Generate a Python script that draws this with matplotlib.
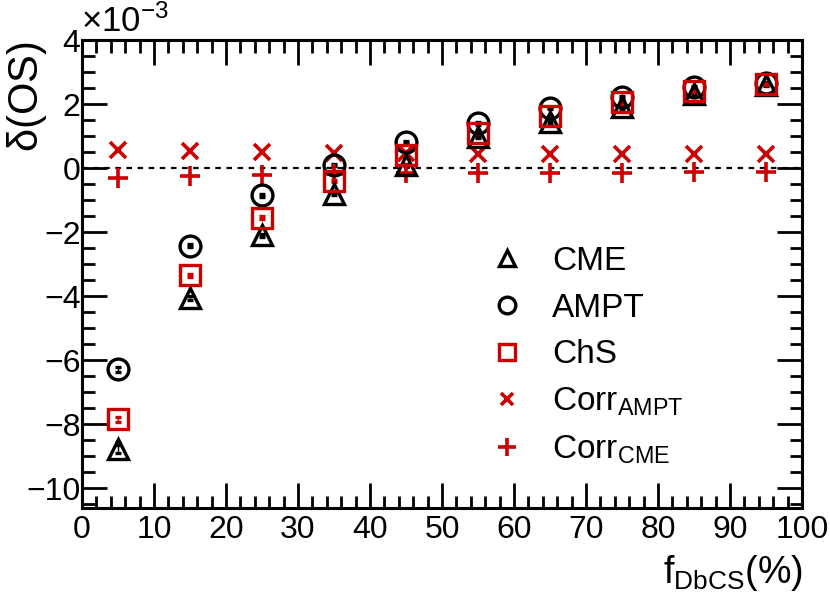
import numpy as np
import matplotlib.pyplot as plt
from matplotlib.ticker import MultipleLocator
from matplotlib.lines import Line2D

plt.rcParams['font.family'] = ['Liberation Sans', 'DejaVu Sans']
plt.rcParams['mathtext.fontset'] = 'custom'
plt.rcParams['mathtext.rm'] = 'Liberation Sans'
plt.rcParams['mathtext.it'] = 'Liberation Sans'

f_dbcs = [5, 15, 25, 35, 45, 55, 65, 75, 85, 95]
cme = [-8.78, -4.05, -2.1, -0.8, 0.1, 0.97, 1.45, 1.9, 2.3, 2.6]
ampt = [-6.28, -2.42, -0.85, 0.1, 0.82, 1.4, 1.87, 2.22, 2.53, 2.65]
chs = [-7.85, -3.35, -1.55, -0.4, 0.4, 1.1, 1.62, 2.05, 2.41, 2.62]
corr_ampt = [0.56, 0.52, 0.5, 0.48, 0.46, 0.45, 0.45, 0.45, 0.45, 0.44]
corr_cme = [-0.31, -0.25, -0.22, -0.18, -0.16, -0.15, -0.14, -0.14, -0.13, -0.13]
err_cme = [0.12, 0.06, 0.05, 0.04, 0.04, 0.04, 0.04, 0.04, 0.04, 0.04]
err_ampt = [0.08, 0.05, 0.04, 0.04, 0.04, 0.04, 0.04, 0.04, 0.04, 0.04]
err_chs = [0.08, 0.05, 0.04, 0.04, 0.04, 0.04, 0.04, 0.04, 0.04, 0.04]

red = '#cc0000'

fig = plt.figure(figsize=(8.3, 5.99), dpi=100)
ax = fig.add_axes([82/830, 1-508/599, 720/830, 468/599])

ax.axhline(0, color='black', ls=(0, (2.5, 2.5)), lw=1.6, zorder=1)

ax.errorbar(f_dbcs, cme, yerr=err_cme, fmt='^', ms=15, mfc='none', mec='black',
            mew=2.4, ecolor='black', elinewidth=1, capsize=2)
ax.errorbar(f_dbcs, ampt, yerr=err_ampt, fmt='o', ms=15, mfc='none', mec='black',
            mew=2.4, ecolor='black', elinewidth=1, capsize=2)
ax.errorbar(f_dbcs, chs, yerr=err_chs, fmt='s', ms=14, mfc='none', mec=red,
            mew=2.4, ecolor=red, elinewidth=1, capsize=2)
ax.plot(f_dbcs, corr_ampt, 'x', ms=11, mew=2.6, color=red, ls='none')
ax.plot(f_dbcs, corr_cme, '+', ms=15, mew=2.6, color=red, ls='none')

ax.set_xlim(0, 100)
ax.set_ylim(-10.62, 4)
ax.xaxis.set_major_locator(MultipleLocator(10))
ax.xaxis.set_minor_locator(MultipleLocator(2))
ax.yaxis.set_major_locator(MultipleLocator(2))
ax.yaxis.set_minor_locator(MultipleLocator(0.5))
ax.tick_params(which='both', direction='in', top=True, right=True, width=2,
               labelsize=23)
ax.tick_params(axis='x', which='major', pad=5)
ax.tick_params(axis='y', which='major', pad=1)
ax.tick_params(which='major', length=18)
ax.tick_params(which='minor', length=9)
ax.set_yticks(np.arange(-10, 5, 2))
ax.set_yticklabels(['\u221210', '\u22128', '\u22126', '\u22124', '\u22122', '0', '2', '4'])
for s in ax.spines.values():
    s.set_linewidth(2.2)

fig.text(81/830, 1-22/599, r'$\times$10$^{\mathregular{-3}}$', fontsize=25,
         ha='left', va='center')
fig.text(27/830, 1-97/599, r'$\delta$(OS)', fontsize=30, rotation=90,
         ha='center', va='center')
fig.text(803/830, 1-573/599, r'f$_{\mathregular{DbCS}}$(%)', fontsize=27,
         ha='right', va='center')

handles = [
    Line2D([], [], marker='^', ms=12, mfc='none', mec='black', mew=2.4, ls='none'),
    Line2D([], [], marker='o', ms=12, mfc='none', mec='black', mew=2.4, ls='none'),
    Line2D([], [], marker='s', ms=12, mfc='none', mec=red, mew=2.4, ls='none'),
    Line2D([], [], marker='x', ms=9, mew=2.6, color=red, ls='none'),
    Line2D([], [], marker='+', ms=13, mew=2.6, color=red, ls='none'),
]
labels = ['CME', 'AMPT', 'ChS', r'Corr$_{\mathregular{AMPT}}$', r'Corr$_{\mathregular{CME}}$']
ax.legend(handles, labels, loc='upper left', bbox_to_anchor=(0.526, 0.624),
          frameon=False, fontsize=24, handletextpad=0.85, labelspacing=0.47,
          handlelength=1.0, borderpad=0.4)

fig.savefig('out.png', dpi=100)
